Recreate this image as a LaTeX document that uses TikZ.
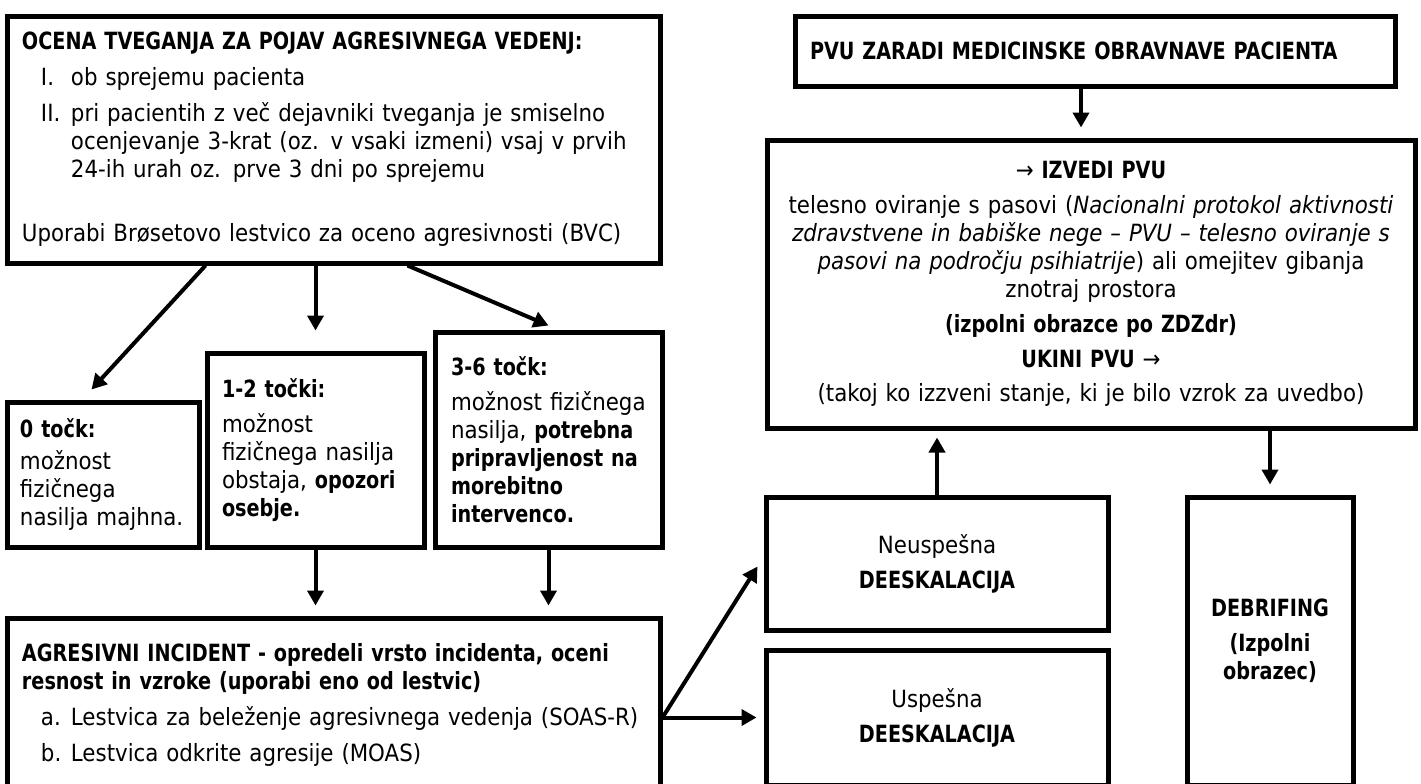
\documentclass[tikz,border=0pt]{standalone}
\usepackage{fontspec}
\setmainfont{DejaVu Sans Condensed}[BoldFeatures={FakeStretch=0.9}]
\usetikzlibrary{arrows.meta}

\tikzset{
  box/.style={draw, line width=1mm, inner sep=0pt, align=left},
  arr/.style={-{Triangle[length=3mm,width=3.2mm]}, line width=0.8mm},
}
% list label and hanging indent
\newcommand{\itm}[1]{\hspace*{3.8mm}\makebox[6mm][l]{#1}}
\newcommand{\cont}{\hspace*{9.8mm}}

\begin{document}
\begin{tikzpicture}[x=0.2mm,y=-0.2mm,font=\fontsize{13.5pt}{15.9pt}\selectfont]
	\useasboundingbox (0,0) rectangle (1421,783);
	\clip (0,0) rectangle (1421,783);

	% left column
	\node[box, minimum width=130.4mm, minimum height=49.4mm, text width=124.8mm] (ocena) at (334,139.5) {%
		\textbf{OCENA TVEGANJA ZA POJAV AGRESIVNEGA VEDENJ:}\\[1.6mm]
		\itm{I.}ob sprejemu pacienta\\[1.6mm]
		\itm{II.}pri pacientih z več dejavniki tveganja je smiselno\\
		\cont ocenjevanje 3-krat (oz. v vsaki izmeni) vsaj v prvih\\
		\cont 24-ih urah oz. prve 3 dni po sprejemu\\[7.2mm]
		Uporabi Brøsetovo lestvico za oceno agresivnosti (BVC)};
	\node[box, minimum width=38.2mm, minimum height=29mm, text width=33.4mm] (nic) at (103.5,474.5) {%
		\textbf{0 točk:}\\[0.8mm]
		možnost\\
		fizičnega\\
		nasilja majhna.};
	\node[box, minimum width=43.4mm, minimum height=38.8mm, text width=37.4mm] (ena) at (315.5,450) {%
		\textbf{1-2 točki:}\\[1.4mm]
		možnost\\
		fizičnega nasilja\\
		obstaja, \textbf{opozori}\\
		\textbf{osebje.}};
	\node[box, minimum width=45.4mm, minimum height=43mm, text width=39mm] (tri) at (548.5,439.5) {%
		\textbf{3-6 točk:}\\[1.4mm]
		možnost fizičnega\\
		nasilja, \textbf{potrebna}\\
		\textbf{pripravljenost na}\\
		\textbf{morebitno}\\
		\textbf{intervenco.}};
	\node[box, minimum width=130.4mm, minimum height=34.8mm, text width=124.8mm] (agr) at (334,705) {%
		\textbf{AGRESIVNI INCIDENT - opredeli vrsto incidenta, oceni}\\
		\textbf{resnost in vzroke (uporabi eno od lestvic)}\\[1.6mm]
		\itm{a.}Lestvica za beleženje agresivnega vedenja (SOAS-R)\\[1.6mm]
		\itm{b.}Lestvica odkrite agresije (MOAS)};

	% right column
	\node[box, minimum width=120mm, minimum height=14mm, text width=114mm] (pvu) at (1095,51) {%
		\textbf{PVU ZARADI MEDICINSKE OBRAVNAVE PACIENTA}};
	\node[box, align=center, minimum width=129.6mm, minimum height=57.6mm, text width=125mm] (izvedi) at (1091,284) {%
		→ \textbf{IZVEDI PVU}\\[1.4mm]
		telesno oviranje s pasovi (\textit{Nacionalni protokol aktivnosti}\\
		\textit{zdravstvene in babiške nege – PVU – telesno oviranje s}\\
		\textit{pasovi na področju psihiatrije}) ali omejitev gibanja\\
		znotraj prostora\\[1.4mm]
		\textbf{(izpolni obrazce po ZDZdr)}\\[1.4mm]
		\textbf{UKINI PVU} →\\[1.4mm]
		(takoj ko izzveni stanje, ki je bilo vzrok za uvedbo)};
	\node[box, align=center, minimum width=68.4mm, minimum height=26.6mm] (neusp) at (937,563.5) {%
		Neuspešna\\[1.4mm]
		\textbf{DEESKALACIJA}};
	\node[box, align=center, minimum width=68.4mm, minimum height=27mm] (usp) at (937,717.5) {%
		Uspešna\\[1.4mm]
		\textbf{DEESKALACIJA}};
	\node[box, align=center, minimum width=33.2mm, minimum height=57.6mm] (debr) at (1270,641) {%
		\textbf{DEBRIFING}\\[1.4mm]
		\textbf{(Izpolni}\\
		\textbf{obrazec)}};

	% connectors
	\coordinate (pvuout) at ([xshift=-2.8mm]pvu.south);
	\coordinate (split) at (agr.east |- usp.west);
	\draw[arr] ([shift={(200,0)}]ocena.south west) -- ([shift={(-12,-10)}]nic.north);
	\draw[arr, shorten >=4mm] (ena.north |- ocena.south) -- (ena.north);
	\draw[arr] ([shift={(402,0)}]ocena.south west) -- ([shift={(0,-4)}]tri.north);
	\draw[arr, shorten >=2mm] (ena.south) -- (ena.south |- agr.north);
	\draw[arr, shorten >=2mm] (tri.south) -- (tri.south |- agr.north);
	\draw[arr] (split) -- ([shift={(-6,3)}]neusp.west);
	\draw[arr, shorten >=1.4mm] (split) -- (usp.west);
	\draw[arr, shorten >=2mm] (pvuout) -- (pvuout |- izvedi.north);
	\draw[arr, shorten >=1.4mm] (neusp.north) -- (neusp.north |- izvedi.south);
	\draw[arr, shorten >=2mm] (izvedi.south -| debr.north) -- (debr.north);
\end{tikzpicture}
\end{document}
